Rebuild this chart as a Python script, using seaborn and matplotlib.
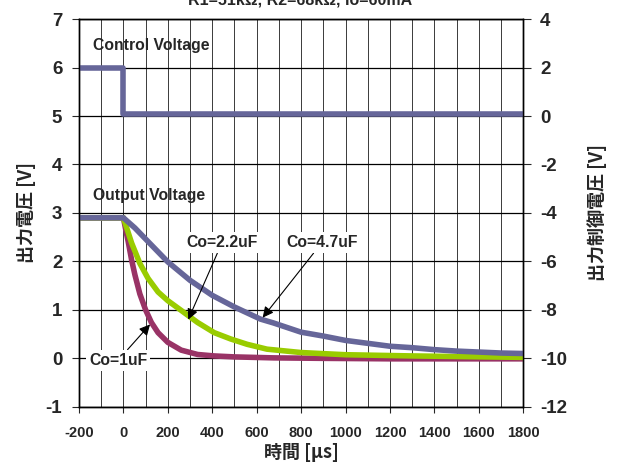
import matplotlib
matplotlib.use("Agg")
import matplotlib.pyplot as plt
from matplotlib.ticker import MultipleLocator
import seaborn as sns

# Output voltage traces (time in µs, voltage in V)
co1_t = [-200, 0, 12, 22, 37, 52, 74, 100, 126, 156, 200, 260, 334, 409, 500, 676, 900, 1200, 1800]
co1_v = [2.9, 2.9, 2.62, 2.40, 2.03, 1.72, 1.33, 1.00, 0.74, 0.53, 0.33, 0.17, 0.08, 0.05, 0.03, 0.01, 0.0, -0.01, -0.01]

co22_t = [-200, 0, 37, 74, 111, 156, 200, 260, 334, 409, 483, 557, 646, 800, 1000, 1300, 1800]
co22_v = [2.9, 2.9, 2.38, 1.96, 1.65, 1.37, 1.19, 0.99, 0.74, 0.53, 0.40, 0.29, 0.19, 0.12, 0.075, 0.05, 0.02]

co47_t = [-200, 0, 52, 111, 200, 300, 400, 500, 617, 676, 800, 900, 1000, 1100, 1200, 1300, 1400, 1500, 1600, 1700, 1800]
co47_v = [2.9, 2.9, 2.69, 2.41, 1.99, 1.61, 1.30, 1.06, 0.81, 0.73, 0.54, 0.46, 0.37, 0.31, 0.25, 0.22, 0.18, 0.15, 0.13, 0.11, 0.10]

# Control voltage step (right axis)
ctrl_t = [-200, 0, 0, 1800]
ctrl_v = [2.0, 2.0, 0.1, 0.1]

x_ticks = [-200, 0, 200, 400, 600, 800, 1000, 1200, 1400, 1600, 1800]
left_ticks = [-1, 0, 1, 2, 3, 4, 5, 6, 7]
right_ticks = [-12, -10, -8, -6, -4, -2, 0, 2, 4]

title = "R1=51kΩ, R2=68kΩ, Io=60mA"
xlabel = "時間 [µs]"
ylabel_left = "出力電圧 [V]"
ylabel_right = "出力制御電圧 [V]"

c_blue = "#666699"
c_green = "#99CC00"
c_mag = "#993366"

sns.set_style("white")
plt.rcParams["font.family"] = ["Liberation Sans", "DejaVu Sans"]
plt.rcParams["font.weight"] = "bold"
plt.rcParams["axes.unicode_minus"] = False
cjk = ["Noto Sans CJK JP", "Liberation Sans", "DejaVu Sans"]

fig = plt.figure(figsize=(6.17, 4.66), dpi=100)
ax = fig.add_axes([0.128, 0.127, 0.848 - 0.128, 0.959 - 0.127])
ax2 = ax.twinx()

lw = 4.0
for t, v, c in [(co1_t, co1_v, c_mag), (co22_t, co22_v, c_green), (co47_t, co47_v, c_blue)]:
    sns.lineplot(x=t, y=v, ax=ax, color=c, lw=lw, estimator=None, sort=False, zorder=3)
sns.lineplot(x=ctrl_t, y=ctrl_v, ax=ax2, color=c_blue, lw=lw, estimator=None, sort=False)

ax.set_xlim(-200, 1800)
ax.set_ylim(-1, 7)
ax2.set_ylim(-12, 4)
ax.set_xticks(x_ticks)
ax.xaxis.set_minor_locator(MultipleLocator(100))
ax.set_yticks(left_ticks)
ax2.set_yticks(right_ticks)

ax.xaxis.grid(True, which="both", color="#3a3a3a", lw=0.7)
ax.yaxis.grid(True, color="black", lw=0.9)
ax.set_axisbelow(True)

for a in (ax, ax2):
    for s in a.spines.values():
        s.set_visible(True)
        s.set_color("black")
        s.set_linewidth(1.0)

ax.tick_params(axis="x", which="major", direction="out", length=4, width=0.8,
               pad=10, labelsize=10.5, bottom=True)
ax.tick_params(axis="x", which="minor", length=0)
ax.tick_params(axis="y", direction="out", length=5, width=0.8, pad=7, labelsize=13.5, left=True)
ax2.tick_params(axis="y", direction="out", length=6, width=0.8, pad=6, labelsize=13.5, right=True)
for lab in ax.get_xticklabels() + ax.get_yticklabels() + ax2.get_yticklabels():
    lab.set_fontweight("bold")

ax.set_xlabel(xlabel, family=cjk, fontsize=13, fontweight="bold", labelpad=2)
ax.set_ylabel(ylabel_left, family=cjk, fontsize=13, fontweight="bold", labelpad=7)
ax2.set_ylabel(ylabel_right, family=cjk, fontsize=13, fontweight="bold", labelpad=15)

fig.text(300 / 617, 1 - 4.5 / 466, title, ha="center", va="baseline",
         fontsize=11.5, fontweight="bold")

txt_kw = dict(fontsize=11.3, fontweight="bold")
ax.text(-136, 6.46, "Control Voltage", ha="left", va="center", zorder=5, **txt_kw)
ax.text(-136, 3.36, "Output Voltage", ha="left", va="center", zorder=5, **txt_kw)

box = dict(boxstyle="square,pad=0.2", fc="white", ec="none")
arrow = dict(arrowstyle="-|>", color="black", lw=0.8, mutation_scale=16, shrinkA=0, shrinkB=0)
ax.annotate("Co=1uF", xy=(120, 0.70), xytext=(-24, -0.04), ha="center", va="center",
            bbox=box, arrowprops=arrow, zorder=6, **txt_kw)
ax.annotate("Co=2.2uF", xy=(292, 0.80), xytext=(444, 2.39), ha="center", va="center",
            bbox=box, arrowprops=arrow, zorder=6, **txt_kw)
ax.annotate("Co=4.7uF", xy=(627, 0.84), xytext=(894, 2.39), ha="center", va="center",
            bbox=box, arrowprops=arrow, zorder=6, **txt_kw)

fig.savefig("out.png", dpi=100)
